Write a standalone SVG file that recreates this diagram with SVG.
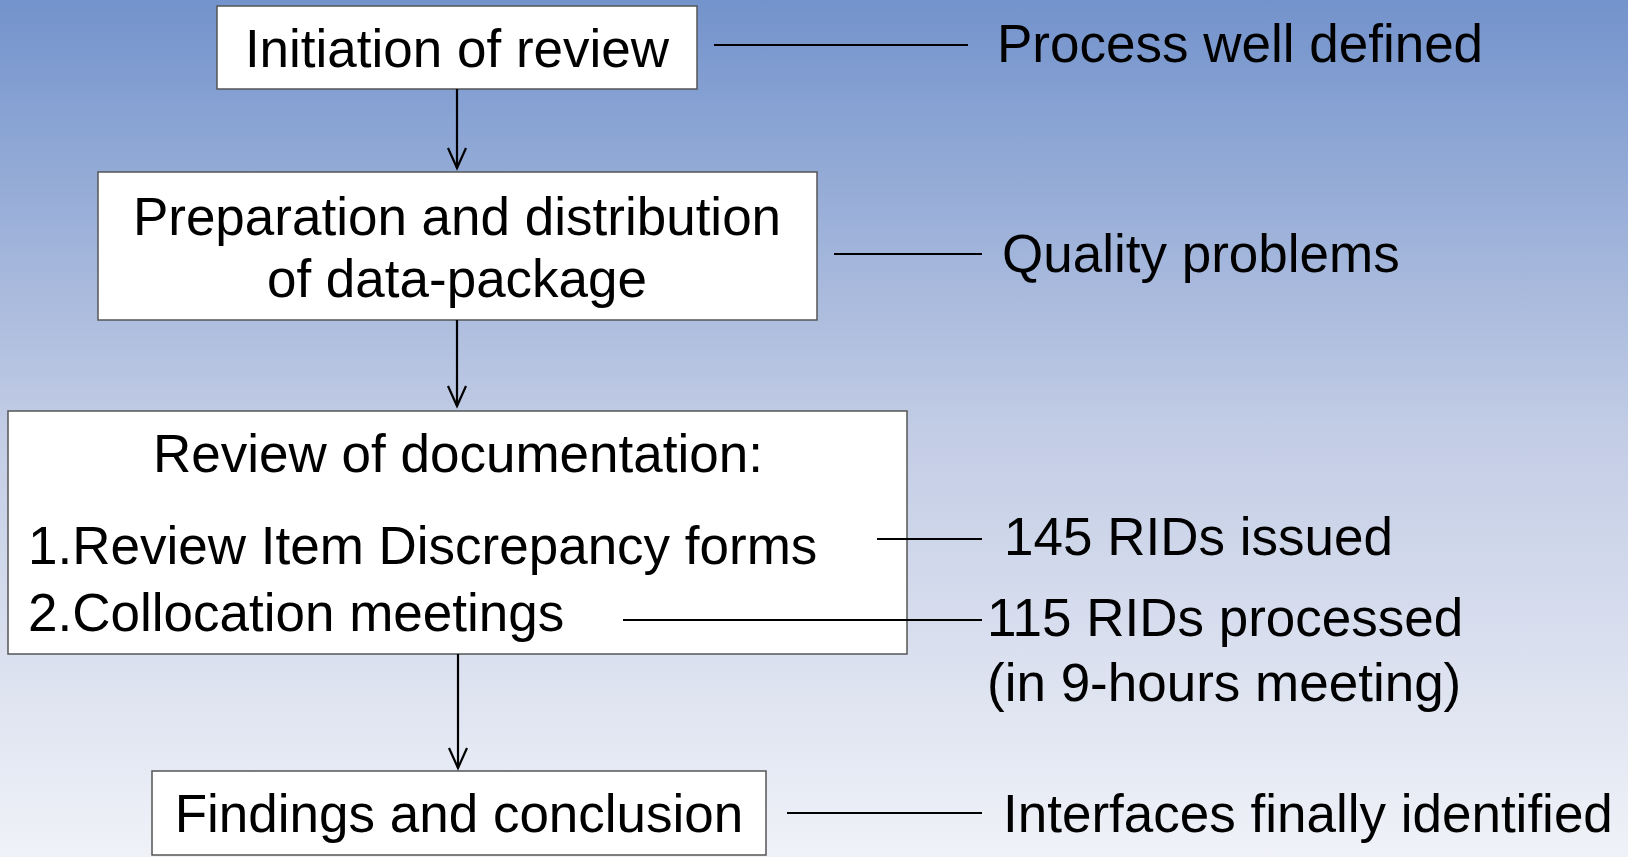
<svg xmlns="http://www.w3.org/2000/svg" width="1628" height="857" viewBox="0 0 1628 857">
<defs>
<linearGradient id="bg" x1="0" y1="0" x2="0" y2="1">
<stop offset="0" stop-color="#7393CC"/>
<stop offset="0.5" stop-color="#C2CCE5"/>
<stop offset="1" stop-color="#F0F2F8"/>
</linearGradient>
<style>
.box{fill:#fff;stroke:#555;stroke-width:1.5}
.t{font-family:"Liberation Sans",Arial,sans-serif;font-size:53px;fill:#000}
.c{text-anchor:middle}
.ln{stroke:#000;stroke-width:2.2;fill:none}
</style>
</defs>
<rect x="0" y="0" width="1628" height="857" fill="url(#bg)"/>
<g id="node-initiation">
<rect class="box" x="217" y="6" width="480" height="83"/>
<text class="t c" x="457" y="67">Initiation of review</text>
</g>
<g id="node-preparation">
<rect class="box" x="98" y="172" width="719" height="148"/>
<text class="t c" x="457" y="235">Preparation and distribution</text>
<text class="t c" x="457" y="297">of data-package</text>
</g>
<g id="node-review">
<rect class="box" x="8" y="411" width="899" height="243"/>
<text class="t c" x="458" y="472">Review of documentation:</text>
<text class="t" x="28" y="564">1.Review Item Discrepancy forms</text>
<text class="t" x="28" y="631">2.Collocation meetings</text>
</g>
<g id="node-findings">
<rect class="box" x="152" y="771" width="614" height="84"/>
<text class="t c" x="459" y="832">Findings and conclusion</text>
</g>
<g id="connectors">
<path class="ln" d="M457,89 V168"/>
<path class="ln" d="M448,148 L457,168 L466,148"/>
<path class="ln" d="M457,320 V406"/>
<path class="ln" d="M448,386 L457,406 L466,386"/>
<path class="ln" d="M458,654 V768"/>
<path class="ln" d="M449,748 L458,768 L467,748"/>
<path class="ln" d="M714,45 H968"/>
<path class="ln" d="M834,254 H982"/>
<path class="ln" d="M877,539 H982"/>
<path class="ln" d="M623,620 H982"/>
<path class="ln" d="M787,813 H982"/>
</g>
<g id="annotations">
<text class="t" x="997" y="62">Process well defined</text>
<text class="t" x="1002" y="272">Quality problems</text>
<text class="t" x="1004" y="555">145 RIDs issued</text>
<text class="t" x="987" y="636">115 RIDs processed</text>
<text class="t" x="987" y="701">(in 9-hours meeting)</text>
<text class="t" x="1003" y="832">Interfaces finally identified</text>
</g>
</svg>
